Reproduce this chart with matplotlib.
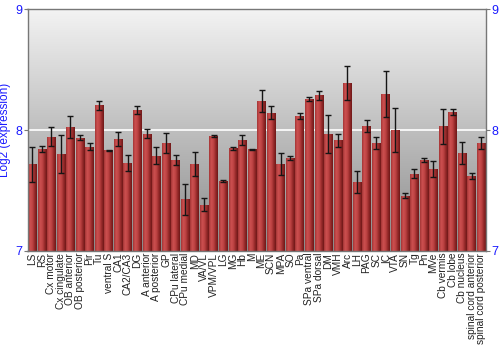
import numpy as np
import matplotlib.pyplot as plt
from matplotlib.colors import LinearSegmentedColormap

plt.rcParams['font.family'] = ['Liberation Sans', 'DejaVu Sans']

regions = ["LS", "RS", "Cx motor", "Cx cingulate", "OB anterior", "OB posterior",
           "Pir", "Tu", "ventral S", "CA1", "CA2/CA3", "DG", "A anterior",
           "A posterior", "GP", "CPu lateral", "CPu medial", "MD", "VA/VL",
           "VPM/VPL", "LG", "MG", "Hb", "M", "ME", "SCN", "MPA", "SO", "Pa",
           "SPa ventral", "SPa dorsal", "DM", "VMH", "Arc", "LH", "PAG", "SC",
           "IC", "VTA", "SN", "Tg", "Pn", "MVe", "Cb vermis", "Cb lobe",
           "Cb nucleus", "spinal cord anterior", "spinal cord posterior"]
expr = [7.715, 7.84, 7.945, 7.80, 8.028, 7.937, 7.862, 8.204, 7.83, 7.928,
        7.724, 8.163, 7.97, 7.787, 7.892, 7.754, 7.423, 7.72, 7.381, 7.95,
        7.575, 7.848, 7.917, 7.838, 8.243, 8.144, 7.718, 7.765, 8.119, 8.257,
        8.29, 7.967, 7.914, 8.39, 7.566, 8.03, 7.892, 8.296, 8.0, 7.456,
        7.638, 7.751, 7.677, 8.033, 8.152, 7.807, 7.62, 7.892]
err = [0.145, 0.025, 0.077, 0.16, 0.09, 0.022, 0.028, 0.04, 0.003, 0.058,
       0.065, 0.033, 0.036, 0.07, 0.084, 0.043, 0.127, 0.1, 0.054, 0.01,
       0.01, 0.015, 0.04, 0.003, 0.092, 0.054, 0.094, 0.017, 0.024, 0.014,
       0.037, 0.156, 0.055, 0.138, 0.091, 0.05, 0.05, 0.19, 0.183, 0.019,
       0.039, 0.014, 0.064, 0.145, 0.025, 0.09, 0.025, 0.048]

ymin, ymax = 7, 9
blue = "#1a1aff"

fig = plt.figure(figsize=(5, 3.5), dpi=100)
ax = fig.add_axes([0.055, 0.284, 0.917, 0.689])

x = np.arange(len(regions))
w = 0.9

# background gradient
bg = LinearSegmentedColormap.from_list("bg", ["#8a8a8a", "#f3f3f3"])
ax.imshow(np.linspace(0, 1, 256).reshape(-1, 1), cmap=bg, aspect="auto",
          extent=[-0.5, len(regions) - 0.5, ymin, ymax], origin="lower", zorder=0)

ax.axhline(8, color="white", lw=1.2, zorder=1)

# bars with horizontal shading
barcm = LinearSegmentedColormap.from_list(
    "bar", ["#a33535", "#cc5050", "#bf4444", "#962a2a", "#6e1818"])
grad = np.linspace(0, 1, 64).reshape(1, -1)
for xi, v in zip(x, expr):
    ax.imshow(grad, cmap=barcm, aspect="auto",
              extent=[xi - w / 2, xi + w / 2, ymin, v], zorder=2)

ax.errorbar(x, expr, yerr=err, fmt="none", ecolor="#151515", elinewidth=1,
            capsize=2, capthick=1, zorder=3)

ax.set_xlim(-0.5, len(regions) - 0.5)
ax.set_ylim(ymin, ymax)
ax.set_xticks(x)
ax.set_xticklabels(regions, rotation=90, fontsize=7.3, color="#222222")
ax.tick_params(axis="x", length=0, pad=1.5)
ax.set_yticks([7, 8, 9])
ax.tick_params(axis="y", colors="#777777", labelcolor=blue, labelsize=9,
               length=3, right=True, labelright=True, pad=1)
ax.set_ylabel("Log2 (expression)", color=blue, fontsize=8.5, labelpad=3)
for s in ax.spines.values():
    s.set_color("#777777")
    s.set_linewidth(1)

fig.savefig("out.png", dpi=100)
